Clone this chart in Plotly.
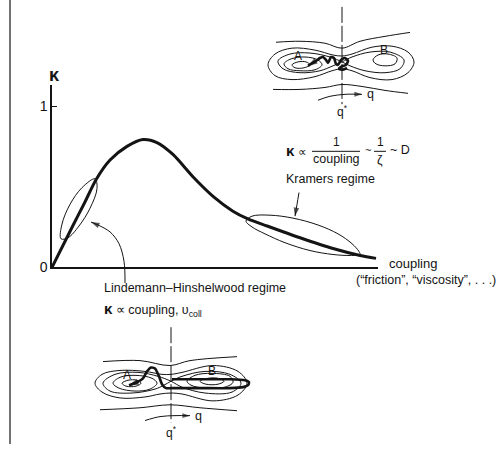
import plotly.graph_objects as go

# ---------------- main curve data (coupling vs kappa) ----------------
coupling = [0, 0.67, 1.0, 1.35, 1.78, 2.30, 2.79, 3.22, 3.71, 4.33, 4.94, 5.55, 6.01, 6.60, 7.61, 8.62, 9.45, 9.94]
kappa = [0, 0.27, 0.40, 0.543, 0.665, 0.75, 0.793, 0.774, 0.70, 0.56, 0.44, 0.348, 0.30, 0.256, 0.183, 0.116, 0.073, 0.055]
y_tick_vals = [0, 1]
y_tick_text = ["0", "1"]

# ---------------- illustration geometry (figure pixel frame) ----------------
lind_ellipse_x = [61, 62, 70, 82, 95, 97, 90, 79, 68, 61]
lind_ellipse_y = [243, 228, 208, 191, 182, 192, 212, 230, 242, 243]
kram_leaf_x = [246, 252, 270, 293, 318, 338, 352, 359, 360, 350, 333, 310, 285, 265, 252, 246]
kram_leaf_y = [225, 220, 219, 222, 229, 238, 248, 256, 259, 260, 259, 255, 247, 238, 231, 225]
lind_arrow_x = [125, 124, 119, 110, 98, 91]
lind_arrow_y = [288, 266, 248, 236, 229, 226]
kram_arrow_x = [299, 297, 295]
kram_arrow_y = [196, 208, 220]

# top inset (saddle at 342, 63)
t_up_x = [276, 300, 325, 342, 360, 385, 410]
t_up_y = [43, 42, 44, 49, 42, 37, 33]
t_lo_x = [273, 300, 325, 342, 362, 385, 408]
t_lo_y = [91, 91, 89, 86, 88, 92, 95]
t_outer_x = [268, 275, 292, 315, 333, 342, 352, 372, 392, 408, 414, 408, 392, 370, 352, 342, 332, 315, 292, 275, 268]
t_outer_y = [66, 55, 49, 51, 56, 57, 55, 48, 47, 53, 63, 74, 81, 79, 72, 70, 72, 78, 81, 77, 66]
t_sep_x = [342, 330, 310, 290, 278, 283, 300, 320, 333, 342, 352, 370, 390, 404, 400, 385, 365, 350, 342]
t_sep_y = [63, 58, 54, 55, 62, 70, 74, 72, 67, 63, 58, 53, 53, 61, 70, 74, 72, 67, 63]
t_a1_x = [284, 291, 305, 318, 322, 315, 300, 288, 284]
t_a1_y = [65, 60, 58, 61, 66, 71, 72, 70, 65]
t_a2_x = [292, 298, 306, 310, 304, 295, 292]
t_a2_y = [66, 63, 63, 66, 69, 69, 66]
t_b_x = [373, 378, 388, 397, 395, 385, 376, 373]
t_b_y = [61, 56, 55, 59, 65, 67, 65, 61]
t_path_x = [347, 343, 339, 341, 346, 348, 345, 341, 338, 336, 334, 331, 328, 326, 323, 320, 316, 308]
t_path_y = [69, 71, 70, 68, 66, 62, 59, 61, 66, 65, 59, 58, 64, 61, 58, 59, 62, 67]
t_q_x = [318, 330, 345, 362]
t_q_y = [102, 98, 96, 96]

# bottom inset (saddle at 171, 388)
b_up_x = [103, 140, 170, 190, 237]
b_up_y = [368, 367, 372, 367, 363]
b_lo_x = [100, 140, 170, 200, 237]
b_lo_y = [417, 415, 412, 415, 418]
b_outer_x = [95, 102, 120, 145, 162, 171, 182, 213, 238, 247, 238, 213, 182, 171, 160, 145, 120, 102, 95]
b_outer_y = [390, 381, 377, 378, 381, 381, 379, 372, 378, 390, 402, 408, 401, 400, 401, 404, 405, 399, 390]
b_sep_x = [171, 158, 138, 115, 103, 110, 132, 155, 164, 171, 182, 205, 230, 241, 232, 205, 182, 171]
b_sep_y = [388, 383, 379, 381, 390, 398, 400, 396, 392, 388, 383, 378, 381, 390, 399, 400, 394, 388]
b_a1_x = [113, 120, 135, 152, 157, 150, 135, 119, 113]
b_a1_y = [390, 384, 382, 385, 390, 396, 398, 395, 390]
b_a2_x = [122, 128, 137, 141, 136, 126, 122]
b_a2_y = [390, 387, 387, 390, 393, 393, 390]
b_b1_x = [187, 195, 212, 230, 233, 225, 205, 191, 187]
b_b1_y = [388, 382, 380, 383, 389, 394, 395, 392, 388]
b_b2_x = [200, 208, 218, 224, 218, 206, 200]
b_b2_y = [388, 385, 385, 388, 391, 391, 388]
b_path_x = [172, 200, 230, 245, 249, 248, 243, 230, 200, 172, 166, 162, 159, 155, 151, 147, 143, 137, 129]
b_path_y = [386, 386, 386, 387, 389, 392, 394, 395, 395, 395, 395, 391, 383, 375, 374, 378, 385, 389, 392]
b_q_x = [145, 160, 175, 190]
b_q_y = [428, 424, 423, 423]

INK = "#141414"
FONT = "Liberation Sans, Arial, sans-serif"

fig = go.Figure()

# main curve
fig.add_trace(go.Scatter(x=coupling, y=kappa, mode="lines",
                         line=dict(color=INK, width=3, shape="spline", smoothing=0.8),
                         xaxis="x", yaxis="y", hoverinfo="skip"))


def px_line(xs, ys, width=1.0, spline=True, dash=None, smoothing=1.0, head=0):
    line = dict(color=INK, width=width)
    if spline:
        line["shape"] = "spline"
        line["smoothing"] = smoothing
    if dash:
        line["dash"] = dash
    kw = {}
    mode = "lines"
    if head:
        mode = "lines+markers"
        sizes = [0] * (len(xs) - 1) + [head]
        kw["marker"] = dict(symbol="arrow", size=sizes, angleref="previous", color=INK,
                            line=dict(width=0))
    fig.add_trace(go.Scatter(x=xs, y=ys, mode=mode, line=line,
                             xaxis="x2", yaxis="y2", hoverinfo="skip", **kw))


px_line(lind_ellipse_x, lind_ellipse_y, 1.0)
px_line(kram_leaf_x, kram_leaf_y, 1.0)
px_line(lind_arrow_x, lind_arrow_y, 1.0, head=9)
px_line(kram_arrow_x, kram_arrow_y, 1.0, head=9)

for xs, ys in [(t_up_x, t_up_y), (t_lo_x, t_lo_y), (t_outer_x, t_outer_y), (t_sep_x, t_sep_y),
               (t_a1_x, t_a1_y), (t_a2_x, t_a2_y), (t_b_x, t_b_y),
               (b_up_x, b_up_y), (b_lo_x, b_lo_y), (b_outer_x, b_outer_y), (b_sep_x, b_sep_y),
               (b_a1_x, b_a1_y), (b_a2_x, b_a2_y), (b_b1_x, b_b1_y), (b_b2_x, b_b2_y)]:
    px_line(xs, ys, 1.0)

px_line(t_q_x, t_q_y, 1.0, head=8)
px_line(b_q_x, b_q_y, 1.0, head=8)
px_line(t_path_x, t_path_y, 2.6, smoothing=0.6, head=10)
px_line(b_path_x, b_path_y, 2.6, smoothing=0.6, head=10)

# vertical dividing lines (q*)
px_line([342, 342], [7, 106], 1.0, spline=False, dash="16px,3px")
px_line([171, 171], [333, 430], 1.0, spline=False, dash="16px,3px")
# page border line
px_line([10, 10], [0, 452], 1.2, spline=False)
# fraction bars
px_line([312, 360], [154, 154], 1.0, spline=False)
px_line([374, 386], [154, 154], 1.0, spline=False)

ann = []


def text(x, y, s, size=12.5, xanchor="left"):
    ann.append(dict(x=x, y=y, xref="x2", yref="y2", text=s, showarrow=False,
                    xanchor=xanchor, yanchor="middle",
                    font=dict(family=FONT, size=size, color=INK)))


text(54, 76, "<b>κ</b>", 18, "center")
text(387, 268, "coupling", 13)
text(498, 285, "(\u201cfriction\u201d, \u201cviscosity\u201d, . . .)", 12.5, "right")
text(102, 293, "Lindemann\u2013Hinshelwood regime", 12.5)
text(102, 315, "<b><span style='font-size:15px'>κ</span></b> \u221d coupling, \u03c5<sub>coll</sub>", 12.5)
text(284, 182, "Kramers regime", 12.5)
# Kramers formula
text(284, 153, "<b><span style='font-size:15px'>κ</span></b> \u221d", 12)
text(336, 145, "1", 12, "center")
text(336, 162, "coupling", 12.5, "center")
text(363, 153, "~", 11, "left")
text(380, 145, "1", 12, "center")
text(380, 163, "\u03b6", 12.5, "center")
text(388, 153, "~ D", 12.5, "left")
# inset labels
text(298, 57, "A", 12, "center")
text(384, 51, "B", 12, "center")
text(370, 96, "q", 12.5, "center")
text(342, 113, "q<sup>*</sup>", 12, "center")
text(127, 382, "A", 12, "center")
text(212, 378, "B", 12, "center")
text(198, 423, "q", 12.5, "center")
text(171, 440, "q<sup>*</sup>", 12, "center")

fig.update_layout(
    width=499, height=459,
    margin=dict(l=0, r=0, t=0, b=0),
    paper_bgcolor="white", plot_bgcolor="rgba(0,0,0,0)",
    showlegend=False,
    annotations=ann,
    xaxis=dict(domain=[52 / 499, 378 / 499], range=[0, 10], showline=True, linecolor=INK,
               linewidth=1.5, showgrid=False, zeroline=False, showticklabels=False,
               ticks="", anchor="y", fixedrange=True),
    yaxis=dict(domain=[1 - 272 / 459, 1 - 86 / 459], range=[0, 1.134], showline=True,
               linecolor=INK, linewidth=1.5, showgrid=False, zeroline=False,
               tickvals=y_tick_vals, ticktext=y_tick_text, ticks="inside", ticklen=5,
               tickwidth=1.2, tickcolor=INK, anchor="x",
               tickfont=dict(family=FONT, size=14, color=INK), fixedrange=True),
    xaxis2=dict(domain=[0, 1], range=[0, 499], visible=False, anchor="y2", fixedrange=True),
    yaxis2=dict(domain=[0, 1], range=[459, 0], visible=False, anchor="x2", fixedrange=True),
)

fig.write_html("out.html", config={"displayModeBar": False},
               post_script="document.body.style.margin='0';document.body.style.overflow='hidden';")
